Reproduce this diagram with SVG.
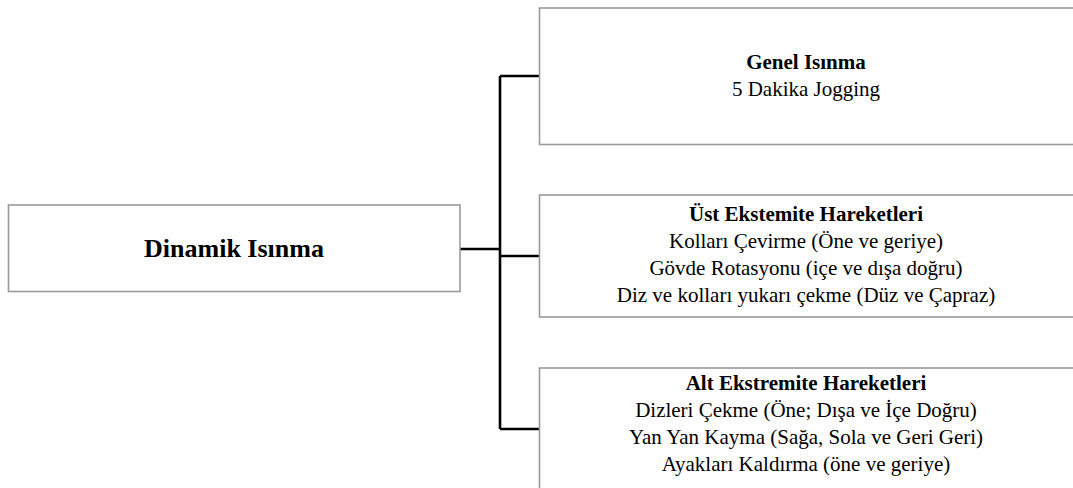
<svg xmlns="http://www.w3.org/2000/svg" width="1073" height="488" viewBox="0 0 1073 488">
<style>
.box{fill:#fff;stroke:#9a9a9a;stroke-width:1.6}
.conn{fill:none;stroke:#000;stroke-width:2.6}
text{font-family:"Liberation Serif","Times New Roman",serif;fill:#000;text-anchor:middle}
.t{font-size:21px;font-weight:bold}
.l{font-size:21px}
.main{font-size:26px;font-weight:bold}
</style>
<rect width="1073" height="488" fill="#fff"/>
<g id="connectors">
<path class="conn" d="M460 249 H500 M500 76 V429 M500 76 H539 M500 256 H539 M500 429 H539"/>
</g>
<g id="dinamik">
<rect class="box" x="8.5" y="205" width="451.5" height="86.5"/>
<text class="main" x="234" y="257">Dinamik Isınma</text>
</g>
<g id="genel">
<rect class="box" x="539.5" y="8" width="540" height="136.5"/>
<text class="t" x="806" y="69">Genel Isınma</text>
<text class="l" x="806" y="96">5 Dakika Jogging</text>
</g>
<g id="ust">
<rect class="box" x="539.5" y="195" width="540" height="122"/>
<text class="t" x="806" y="221">Üst Ekstemite Hareketleri</text>
<text class="l" x="806" y="248">Kolları Çevirme (Öne ve geriye)</text>
<text class="l" x="806" y="275">Gövde Rotasyonu (içe ve dışa doğru)</text>
<text class="l" x="806" y="302">Diz ve kolları yukarı çekme (Düz ve Çapraz)</text>
</g>
<g id="alt">
<rect class="box" x="539.5" y="368" width="540" height="140"/>
<text class="t" x="806" y="390">Alt Ekstremite Hareketleri</text>
<text class="l" x="806" y="417">Dizleri Çekme (Öne; Dışa ve İçe Doğru)</text>
<text class="l" x="806" y="444">Yan Yan Kayma (Sağa, Sola ve Geri Geri)</text>
<text class="l" x="806" y="471">Ayakları Kaldırma (öne ve geriye)</text>
</g>
</svg>
